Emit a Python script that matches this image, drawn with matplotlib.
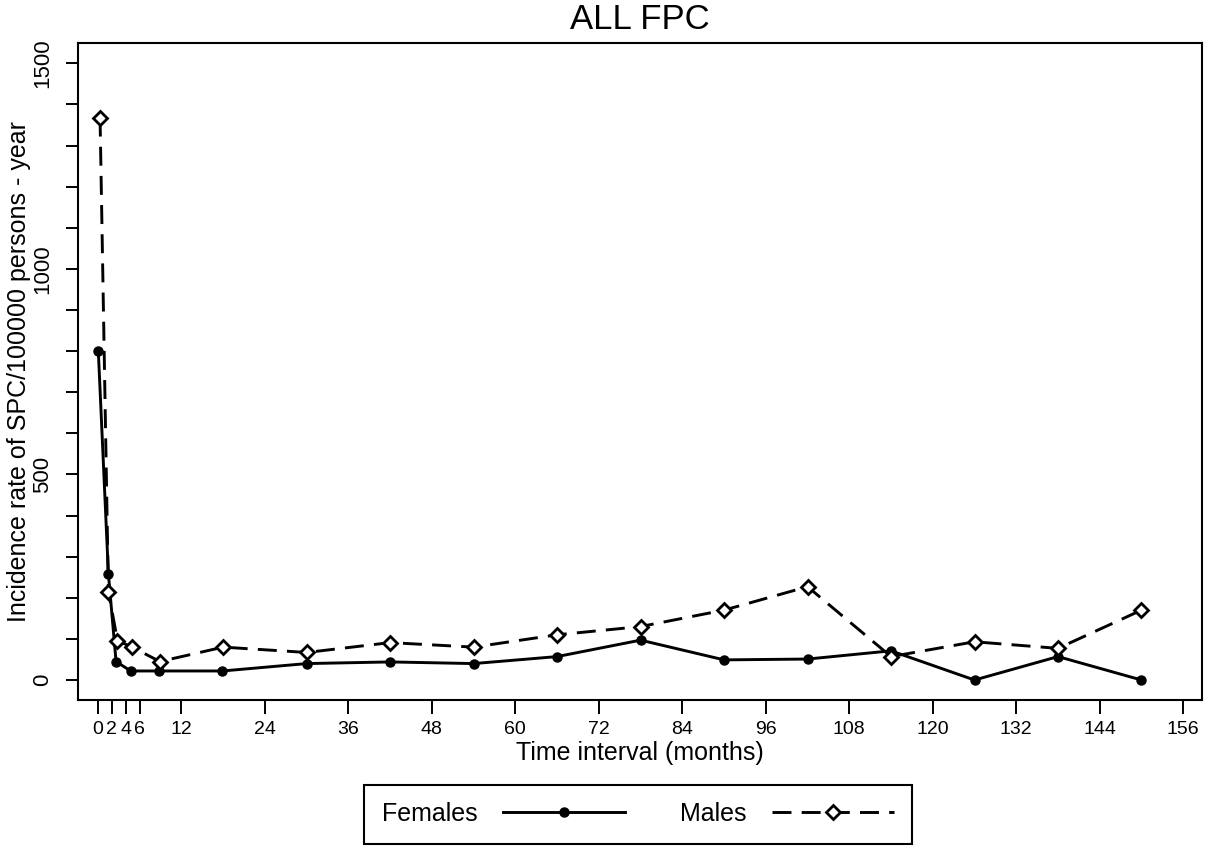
import matplotlib
matplotlib.use("Agg")
import matplotlib.pyplot as plt

plt.rcParams['font.family'] = ['Liberation Sans', 'DejaVu Sans']

# Data
months_f = [0.05, 1.5, 2.6, 4.7, 8.8, 17.9, 30, 42, 54, 66, 78, 90, 102, 114, 126, 138, 150]
females = [800, 258, 45, 22, 22, 22, 40, 44, 40, 57, 97, 49, 51, 71, 0, 57, 0]
months_m = [0.3, 1.5, 2.8, 4.9, 8.9, 18, 30, 42, 54, 66, 78, 90, 102, 114, 126, 138, 150]
males = [1368, 215, 96, 80, 45, 80, 67, 91, 80, 110, 130, 170, 227, 57, 93, 77, 170]

x_ticks = [0, 2, 4, 6, 12, 24, 36, 48, 60, 72, 84, 96, 108, 120, 132, 144, 156]
y_major = [0, 500, 1000, 1500]
y_minor = list(range(0, 1600, 100))

W, H = 1207, 850
fig = plt.figure(figsize=(W / 100, H / 100), dpi=100)
ax = fig.add_axes([78 / W, 1 - 700 / H, (1202 - 78) / W, (700 - 43.3) / H])

lw = 2.1
ax.plot(months_f, females, color='black', lw=lw, marker='o', markersize=6.5,
        markerfacecolor='black', label='Females')
ax.plot(months_m, males, color='black', lw=lw, dashes=(6.5, 3.5), marker='D',
        markersize=7.5, markerfacecolor='white', markeredgecolor='black',
        markeredgewidth=2, label='Males')

ax.set_xlim(-2.87, 158.7)
ax.set_ylim(-48.6, 1548.7)

ax.set_xticks(x_ticks)
ax.set_xticklabels([str(t) for t in x_ticks], fontsize=14)
ax.set_yticks(y_minor, minor=True)
ax.set_yticks(y_major)
ax.set_yticklabels([str(t) for t in y_major], fontsize=16, rotation=90, va='center')

ax.tick_params(axis='x', direction='out', length=10, width=1.4, pad=5)
ax.tick_params(axis='y', which='major', direction='out', length=8.6, width=1.4, pad=9)
ax.tick_params(axis='y', which='minor', direction='out', length=8.6, width=1.4)

for sp in ax.spines.values():
    sp.set_linewidth(1.5)
    sp.set_color('black')

ax.set_title('ALL FPC', fontsize=25, pad=10)
ax.set_xlabel('Time interval (months)', fontsize=18, va='center')
ax.xaxis.set_label_coords(0.5, -0.0807)
ax.set_ylabel('Incidence rate of SPC/100000 persons - year', fontsize=18, va='center')
ax.yaxis.set_label_coords(-0.0525, 0.5)

leg = fig.legend(loc='center', bbox_to_anchor=(638 / W, 1 - 814 / H), ncol=2,
                 fontsize=18, markerfirst=False, numpoints=1, handlelength=4.9,
                 handletextpad=1.0, columnspacing=2.2, borderpad=0.7,
                 fancybox=False, framealpha=1, edgecolor='black')
leg.get_frame().set_linewidth(1.5)

fig.savefig('out.png', dpi=100)
